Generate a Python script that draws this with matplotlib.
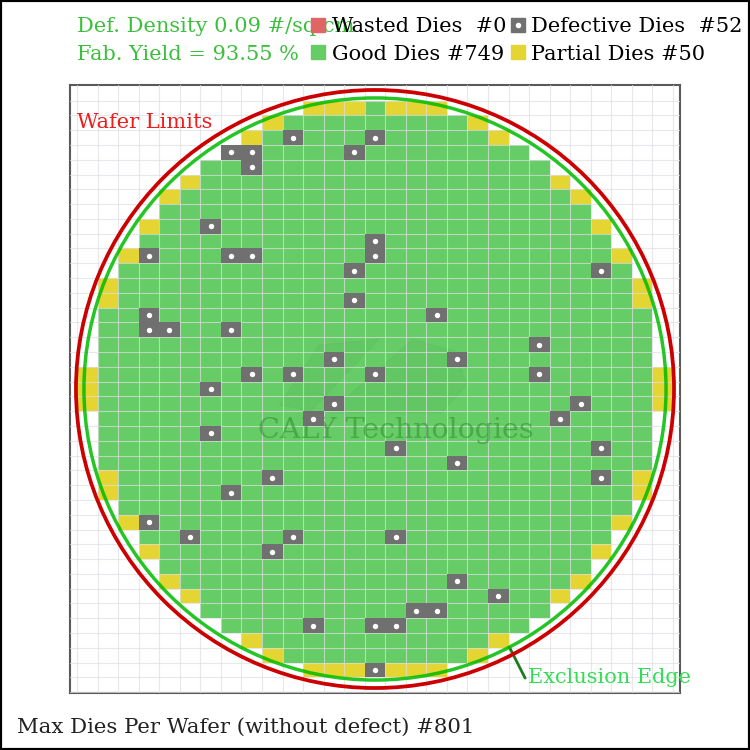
import numpy as np
import matplotlib
matplotlib.use('Agg')
import matplotlib.pyplot as plt
from matplotlib.patches import Rectangle, Circle, Polygon
from matplotlib.lines import Line2D
from matplotlib.legend_handler import HandlerTuple

plt.rcParams['font.family'] = ['DejaVu Serif', 'DejaVu Sans']

# wafer geometry, mm
wafer_radius = 150.0
excl_radius = 146.0
die_w = 10.31
die_h = 7.42

# per row, counted from the centre row (0) out to the edge row (19);
# the map is symmetric top/bottom and left/right
good_half = [13, 13, 13, 13, 13, 13, 12, 12, 12, 11, 11, 10, 10, 9, 8, 8, 7, 5, 4, 0]
partial_half = [1, 1, 0, 0, 0, 0, 1, 1, 0, 1, 0, 1, 0, 1, 1, 0, 0, 1, 1, 3]

# defective dies as (column, row), row > 0 is above the centre
defects = [(-4, 17), (0, 17), (-7, 16), (-6, 16), (-6, 15), (-1, 16), (-8, 11),
           (0, 10), (-11, 9), (-7, 9), (-6, 9), (0, 9), (-1, 8), (11, 8), (-1, 6),
           (-11, 5), (-11, 4), (-10, 4), (-7, 4), (3, 5), (8, 3), (-2, 2), (4, 2),
           (-6, 1), (-4, 1), (0, 1), (8, 1), (-8, 0), (-2, -1), (10, -1), (-3, -2),
           (9, -2), (-8, -3), (1, -4), (11, -4), (4, -5), (-5, -6), (11, -6),
           (-7, -7), (-11, -9), (-9, -10), (-4, -10), (1, -10), (-5, -11), (4, -13),
           (6, -14), (2, -15), (3, -15), (-3, -16), (0, -16), (1, -16), (0, -19)]

def_density = 0.09
fab_yield = 93.55
n_wasted = 0

c_good = '#66cc66'
c_partial = '#e5d532'
c_defect = '#707070'
c_wasted = '#e06666'

# build the die list
good, partial = [], []
nrow = len(good_half)
for r in range(-(nrow - 1), nrow):
    k = abs(r)
    for c in range(-(good_half[k] + partial_half[k]), good_half[k] + partial_half[k] + 1):
        if abs(c) <= good_half[k]:
            good.append((c, r))
        else:
            partial.append((c, r))
defect_set = set(defects)
good_ok = [d for d in good if d not in defect_set]

fig = plt.figure(figsize=(7.5, 7.5), dpi=100)
ax = fig.add_axes([70 / 750, 57 / 750, 610 / 750, 608 / 750])
ax.set_xlim(-153, 153)
ax.set_ylim(-152.5, 152.5)

# die grid in the background
ax.set_xticks((np.arange(-14, 16) - 0.5) * die_w)
ax.set_yticks((np.arange(-20, 21) - 0.5) * die_h)
ax.tick_params(length=0, labelbottom=False, labelleft=False)
ax.grid(True, color='#dedee4', lw=0.8, alpha=0.7)
ax.set_axisbelow(False)
for s in ax.spines.values():
    s.set_color('#5a5a5a')
    s.set_linewidth(1.5)

for (c, r) in good_ok:
    ax.add_patch(Rectangle(((c - 0.5) * die_w, (r - 0.5) * die_h), die_w, die_h,
                           fc=c_good, ec='none', zorder=1))
for (c, r) in partial:
    ax.add_patch(Rectangle(((c - 0.5) * die_w, (r - 0.5) * die_h), die_w, die_h,
                           fc=c_partial, ec='none', zorder=1))
for (c, r) in defects:
    ax.add_patch(Rectangle(((c - 0.5) * die_w, (r - 0.5) * die_h), die_w, die_h,
                           fc=c_defect, ec='none', zorder=3))
dx = [c * die_w for c, r in defects]
dy = [r * die_h for c, r in defects]
ax.scatter(dx, dy, s=15, color='white', zorder=3.5, linewidths=0)

# faint logo + watermark
logo_a = [(-48, -8), (-28, 22), (2, 25), (-32, -11)]
logo_b = [(-23, -12), (19, 25), (40, 19), (46, 2), (33, -12)]
for pts in (logo_a, logo_b):
    ax.add_patch(Polygon(pts, closed=True, fc='#2f8f2f', ec='#2f8f2f', lw=0.8,
                         alpha=0.07, zorder=2))
ax.text(10.5, -20.6, 'CALY Technologies', ha='center', va='center', fontsize=20.5,
        color='#2f8f2f', alpha=0.55, zorder=2.6)

# wafer and exclusion circles
ax.add_patch(Circle((0, 0), wafer_radius, fill=False, ec='#cc0000', lw=2.7, zorder=4))
ax.add_patch(Circle((0, 0), excl_radius, fill=False, ec='#00bb00', lw=2.5,
                    alpha=0.85, zorder=4))

ax.text(0.0115, 0.9375, 'Wafer Limits', transform=ax.transAxes, fontsize=15,
        color='#ee1c1c', ha='left', va='center')
ang = np.deg2rad(-62.5)
ax.annotate('Exclusion Edge', xy=(excl_radius * np.cos(ang), excl_radius * np.sin(ang)),
            xytext=(76.7, -144.9), fontsize=15, color='#33dd55', ha='left', va='center',
            annotation_clip=False,
            arrowprops=dict(arrowstyle='-', color='#1e7a1e', lw=2, relpos=(0, 0.2),
                            shrinkA=0, shrinkB=0))

# header texts
fig.text(77 / 750, 1 - 27 / 750, f'Def. Density {def_density} #/sq.cm', fontsize=15,
         color='#3cbf3c', ha='left', va='center')
fig.text(77 / 750, 1 - 55 / 750, f'Fab. Yield = {fab_yield} %', fontsize=15,
         color='#3cbf3c', ha='left', va='center')

h_wasted = Line2D([], [], ls='', marker='s', ms=9.5, color=c_wasted)
h_good = Line2D([], [], ls='', marker='s', ms=9.5, color=c_good)
h_def = (Line2D([], [], ls='', marker='s', ms=9.5, color=c_defect),
         Line2D([], [], ls='', marker='o', ms=3, color='white'))
h_part = Line2D([], [], ls='', marker='s', ms=9.5, color=c_partial)
fig.legend([h_wasted, h_good, h_def, h_part],
           [f'Wasted Dies  #{n_wasted}', f'Good Dies #{len(good_ok)}',
            f'Defective Dies  #{len(defects)}', f'Partial Dies #{len(partial)}'],
           handler_map={tuple: HandlerTuple(ndivide=1, pad=0)},
           loc='upper left', bbox_to_anchor=(310 / 750, 1 - 17 / 750), ncol=2,
           frameon=False, fontsize=15, handlelength=0.8, handletextpad=0.25,
           columnspacing=0.15, labelspacing=0.42, borderpad=0, borderaxespad=0)

fig.text(17 / 750, 1 - 727 / 750,
         f'Max Dies Per Wafer (without defect) #{len(good)}', fontsize=15.3,
         color='#222222', ha='left', va='center')

fig.add_artist(Rectangle((0, 0), 1, 1, transform=fig.transFigure, fill=False,
                         ec='black', lw=3))

fig.savefig('out.png', dpi=100)
